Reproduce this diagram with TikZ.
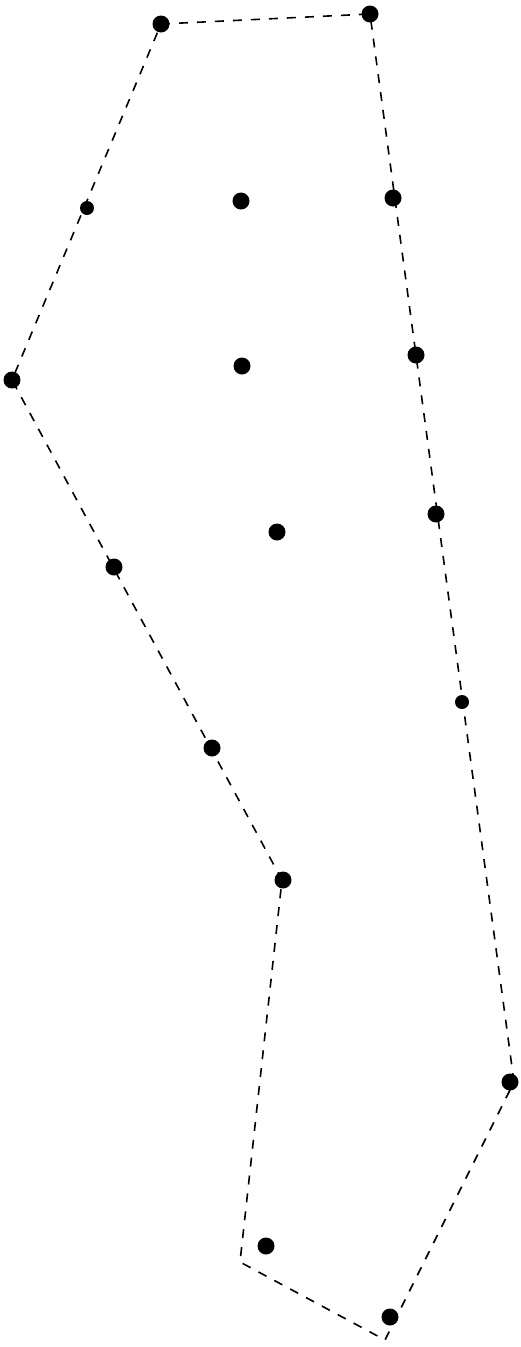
\documentclass[tikz,border=0pt]{standalone}
\begin{document}
\begin{tikzpicture}[x=1pt,y=-1pt,
  dotnode/.style={circle,fill=black,inner sep=0pt,minimum size=17pt},
  smalldot/.style={circle,fill=black,inner sep=0pt,minimum size=14pt},
  hull/.style={draw=black,line width=1.6pt,dash pattern=on 9pt off 9pt}]
\useasboundingbox (0,0) rectangle (520,1347);
% hull corners
\coordinate (c1) at (161,24);
\coordinate (c2) at (370,14);
\coordinate (c3) at (514,1082);
\coordinate (c4) at (385,1340);
\coordinate (c5) at (240,1262);
\coordinate (c6) at (282,880);
\coordinate (c7) at (12,380);
\draw[hull] (c1) -- (c2) -- (c3) -- (c4) -- (c5) -- (c6) -- (c7) -- cycle;
% points
\node[dotnode] (p1) at (161,24) {};
\node[dotnode] (p2) at (370,14) {};
\node[smalldot] (p3) at (87,208) {};
\node[dotnode] (p4) at (241,201) {};
\node[dotnode] (p5) at (393,198) {};
\node[dotnode] (p6) at (12,380) {};
\node[dotnode] (p7) at (242,366) {};
\node[dotnode] (p8) at (416,355) {};
\node[dotnode] (p9) at (277,532) {};
\node[dotnode] (p10) at (436,514) {};
\node[dotnode] (p11) at (114,567) {};
\node[smalldot] (p12) at (462,702) {};
\node[dotnode] (p13) at (212,748) {};
\node[dotnode] (p14) at (283,880) {};
\node[dotnode] (p15) at (510,1082) {};
\node[dotnode] (p16) at (266,1246) {};
\node[dotnode] (p17) at (390,1317) {};
\end{tikzpicture}
\end{document}
